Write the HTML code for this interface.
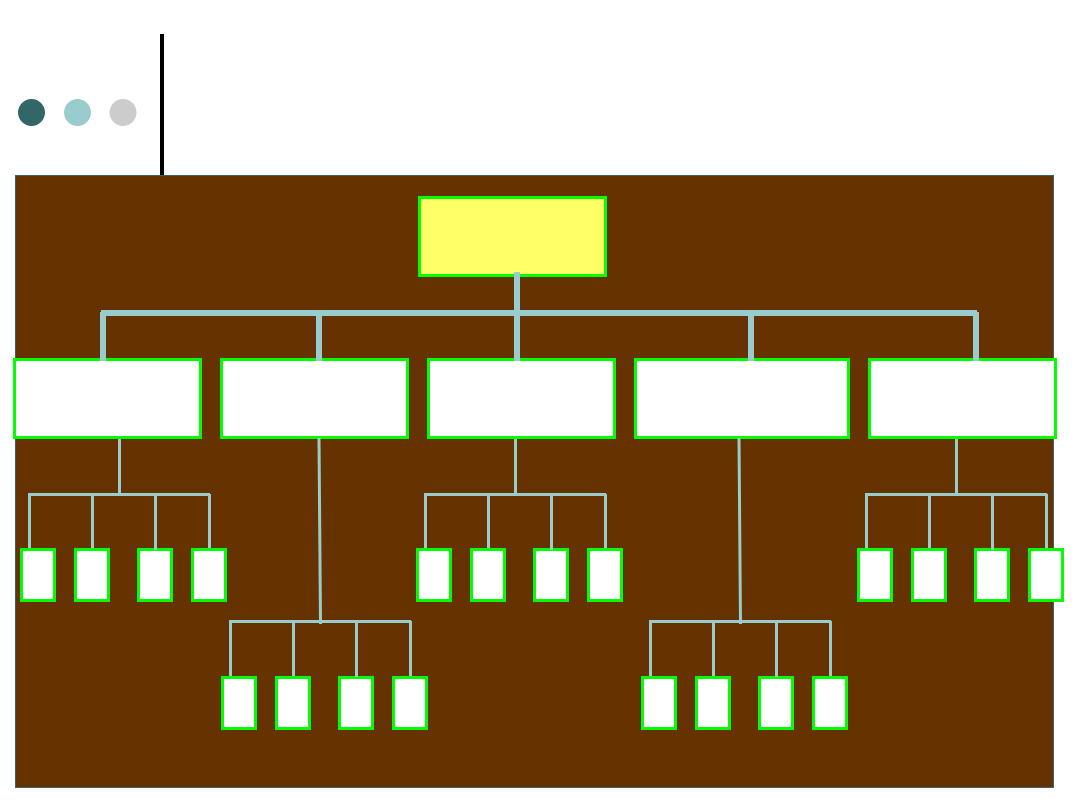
<!DOCTYPE html>
<html>
<head>
<meta charset="utf-8">
<style>
html,body{margin:0;padding:0;background:#fff;width:1080px;height:810px;overflow:hidden}
svg{display:block}
</style>
</head>
<body>
<svg width="1080" height="810" viewBox="0 0 1080 810" xmlns="http://www.w3.org/2000/svg" shape-rendering="crispEdges">
<defs>
<g id="kidlines" fill="#99CCCC">
<rect x="28" y="493" width="182" height="3"/>
<rect x="28" y="493" width="3" height="56"/>
<rect x="91" y="493" width="3" height="56"/>
<rect x="208" y="494" width="3" height="55"/>
</g>
<g id="kidboxes" fill="#fff" stroke="#00FF00" stroke-width="3">
<rect x="21.5" y="549.5" width="33" height="51"/>
<rect x="75.5" y="549.5" width="33" height="51"/>
<rect x="138.5" y="549.5" width="33" height="51"/>
<rect x="192.5" y="549.5" width="33" height="51"/>
</g>
<rect id="third" x="154" y="493" width="3" height="57" fill="#99CCCC"/>
<rect id="stem" x="118" y="439" width="3" height="55" fill="#99CCCC"/>
</defs>

<rect x="15.5" y="175.5" width="1038" height="612" fill="#663300" stroke="#336666" stroke-width="1"/>

<rect x="160" y="34" width="4" height="141" fill="#000"/>
<g shape-rendering="auto">
<circle cx="31.5" cy="112.5" r="13.5" fill="#336666"/>
<circle cx="77.5" cy="112.5" r="13.5" fill="#99CCCC"/>
<circle cx="123" cy="112.5" r="13.5" fill="#CCCCCC"/>
</g>

<use href="#kidlines"/>
<use href="#kidlines" x="396"/>
<use href="#kidlines" x="837"/>
<use href="#kidlines" x="201" y="127"/>
<use href="#kidlines" x="621" y="127"/>

<use href="#kidboxes"/>
<use href="#kidboxes" x="396"/>
<use href="#kidboxes" x="837"/>
<use href="#kidboxes" x="201" y="128"/>
<use href="#kidboxes" x="621" y="128"/>

<use href="#third"/>
<use href="#third" x="396"/>
<use href="#third" x="837"/>
<use href="#third" x="201" y="127"/>
<use href="#third" x="621" y="127"/>

<rect x="419.5" y="197.5" width="186" height="78" fill="#FFFF66" stroke="#00FF00" stroke-width="3"/>
<g fill="#fff" stroke="#00FF00" stroke-width="3">
<rect x="14.5" y="359.5" width="186" height="78"/>
<rect x="221.5" y="359.5" width="186" height="78"/>
<rect x="428.5" y="359.5" width="186" height="78"/>
<rect x="635.5" y="359.5" width="213" height="78"/>
<rect x="869.5" y="359.5" width="186" height="78"/>
</g>

<use href="#stem"/>
<use href="#stem" x="396"/>
<use href="#stem" x="837"/>
<g shape-rendering="auto" stroke="#99CCCC" stroke-width="3" fill="none">
<line x1="319" y1="438" x2="320.5" y2="624"/>
<line x1="739" y1="438" x2="740.5" y2="624"/>
</g>

<g fill="#99CCCC">
<rect x="514" y="272" width="6" height="89"/>
<rect x="101" y="310" width="876" height="6"/>
<rect x="100" y="312" width="6" height="49"/>
<rect x="316" y="312" width="6" height="49"/>
<rect x="748" y="312" width="6" height="49"/>
<rect x="973" y="312" width="6" height="49"/>
</g>
</svg>
</body>
</html>
